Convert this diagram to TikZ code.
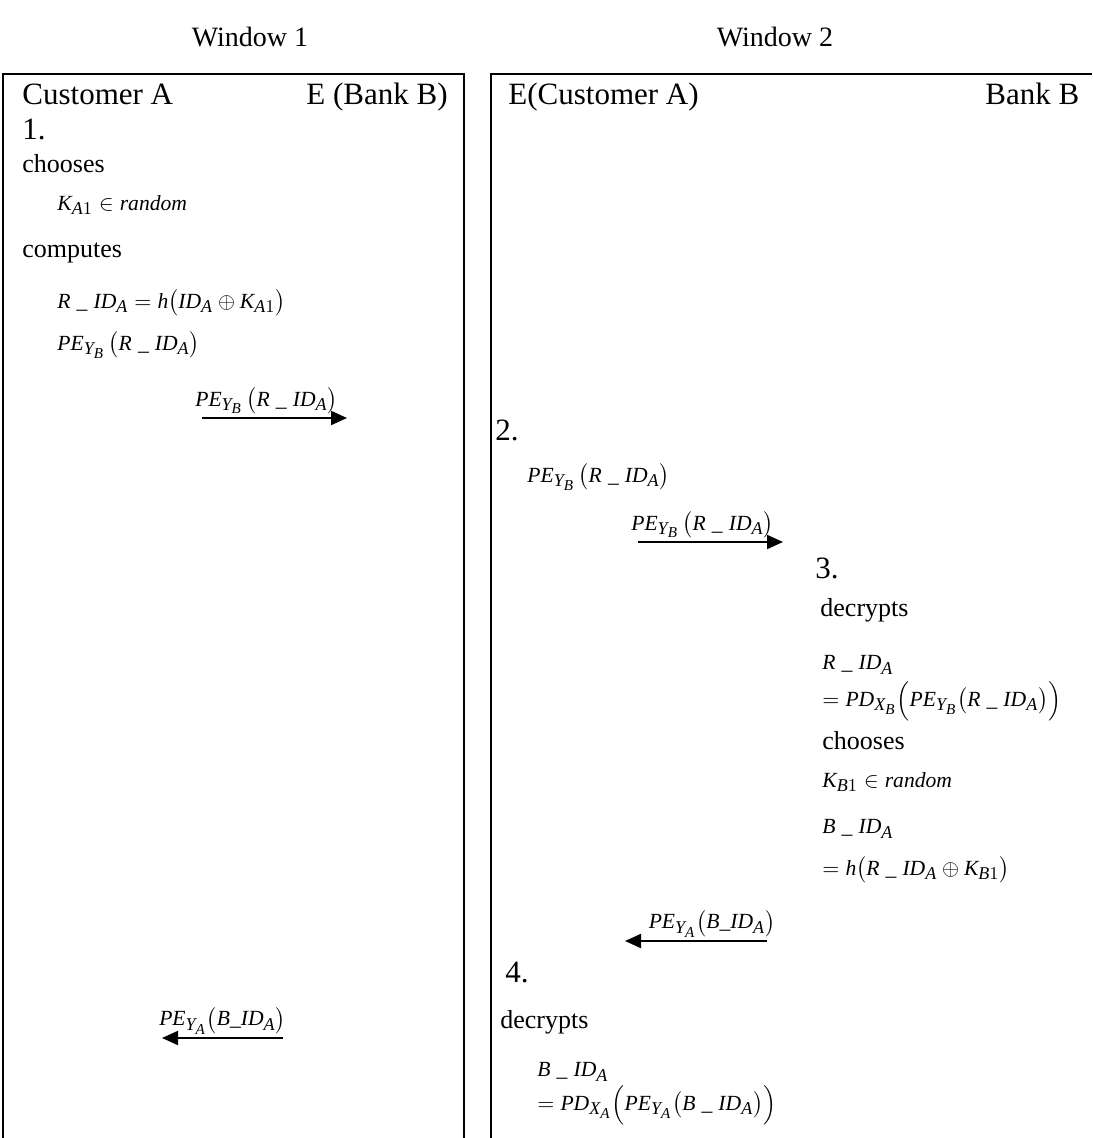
\documentclass[tikz,border=0pt]{standalone}
\usepackage{amsmath}
\usepackage{fontspec}
\setmainfont{Liberation Serif}
\usepackage[italic]{mathastext}
\usepackage{tikz}
\usetikzlibrary{arrows.meta}
\tikzstyle{title} = [inner sep=0pt, font=\fontsize{14}{16}\selectfont]
\tikzstyle{head} = [anchor=west, inner sep=0pt, text height=11.5pt, text depth=4pt, font=\fontsize{15.5}{18}\selectfont]
\tikzstyle{word} = [anchor=west, inner sep=0pt, font=\fontsize{13}{15}\selectfont]
\tikzstyle{formula} = [anchor=west, inner sep=0pt, font=\fontsize{10.8}{12}\selectfont]
\tikzstyle{window} = [line width=1pt]
\tikzstyle{arrow} = [line width=1pt,-{Triangle[length=8pt,width=7pt]}]
\tikzstyle{msg} = [above, inner sep=1.5pt, font=\fontsize{10.8}{12}\selectfont]

\begin{document}
\begin{tikzpicture}[x=0.5pt, y=-0.5pt]
\useasboundingbox (0,0) rectangle (1092,1138);
% windows
\node (win1) [title] at (250,37) {Window 1};
\node (win2) [title] at (775,37) {Window 2};
\draw [window] (3,1138) -- (3,74) -- (464,74) -- (464,1138);
\draw [window] (491,1138) -- (491,74) -- (1092,74);
% window 1
\node (custA) [head] at (22,97) {Customer A};
\node (eBank) [head, anchor=east] at (448,97) {E (Bank B)};
\node (s1) [head] at (22,132) {1.};
\node (choose1) [word] at (22,164) {chooses};
\node (ka1) [formula] at (57,205) {$K_{A1}\in random$};
\node (comp1) [word] at (22,253) {computes};
\node (rid1) [formula] at (57,303) {$R\;\_\;ID_{A}=h\bigl(ID_{A}\oplus K_{A1}\bigr)$};
\node (pe1) [formula] at (57,345) {$PE_{Y_B}\,\bigl(R\;\_\;ID_{A}\bigr)$};
\coordinate (m1s) at (202,418);
\coordinate (m1e) at (347,418);
\draw [arrow] (m1s) -- node[msg, xshift=-4pt] {$PE_{Y_B}\,\bigl(R\;\_\;ID_{A}\bigr)$} (m1e);
\coordinate (m4s) at (283,1038);
\coordinate (m4e) at (162,1038);
\draw [arrow] (m4s) -- node[msg] {$PE_{Y_A}\bigl(B\_ID_{A}\bigr)$} (m4e);
% window 2
\node (eCust) [head] at (508,97) {E(Customer A)};
\node (bankB) [head] at (985,97) {Bank B};
\node (s2) [head] at (495,433) {2.};
\node (pe2) [formula] at (527,477) {$PE_{Y_B}\,\bigl(R\;\_\;ID_{A}\bigr)$};
\coordinate (m2s) at (638,542);
\coordinate (m2e) at (783,542);
\draw [arrow] (m2s) -- node[msg, xshift=-4pt] {$PE_{Y_B}\,\bigl(R\;\_\;ID_{A}\bigr)$} (m2e);
\node (s3) [head] at (815,571) {3.};
\node (dec3) [word] at (820,610) {decrypts};
\node (rid3) [formula] at (822,665) {$R\;\_\;ID_{A}$};
\node (pd3) [formula] at (822,701) {$=PD_{X_B}\Bigl(PE_{Y_B}\bigl(R\;\_\;ID_{A}\bigr)\Bigr)$};
\node (choose3) [word] at (822,741) {chooses};
\node (kb1) [formula] at (822,782) {$K_{B1}\in random$};
\node (bid3) [formula] at (822,829) {$B\;\_\;ID_{A}$};
\node (h3) [formula] at (822,870) {$=h\bigl(R\;\_\;ID_{A}\oplus K_{B1}\bigr)$};
\coordinate (m3s) at (767,941);
\coordinate (m3e) at (625,941);
\draw [arrow] (m3s) -- node[msg, xshift=8pt] {$PE_{Y_A}\bigl(B\_ID_{A}\bigr)$} (m3e);
\node (s4) [head] at (505,975) {4.};
\node (dec4) [word] at (500,1022) {decrypts};
\node (bid4) [formula] at (537,1072) {$B\;\_\;ID_{A}$};
\node (pd4) [formula] at (537,1105) {$=PD_{X_A}\Bigl(PE_{Y_A}\bigl(B\;\_\;ID_{A}\bigr)\Bigr)$};
\end{tikzpicture}
\end{document}
